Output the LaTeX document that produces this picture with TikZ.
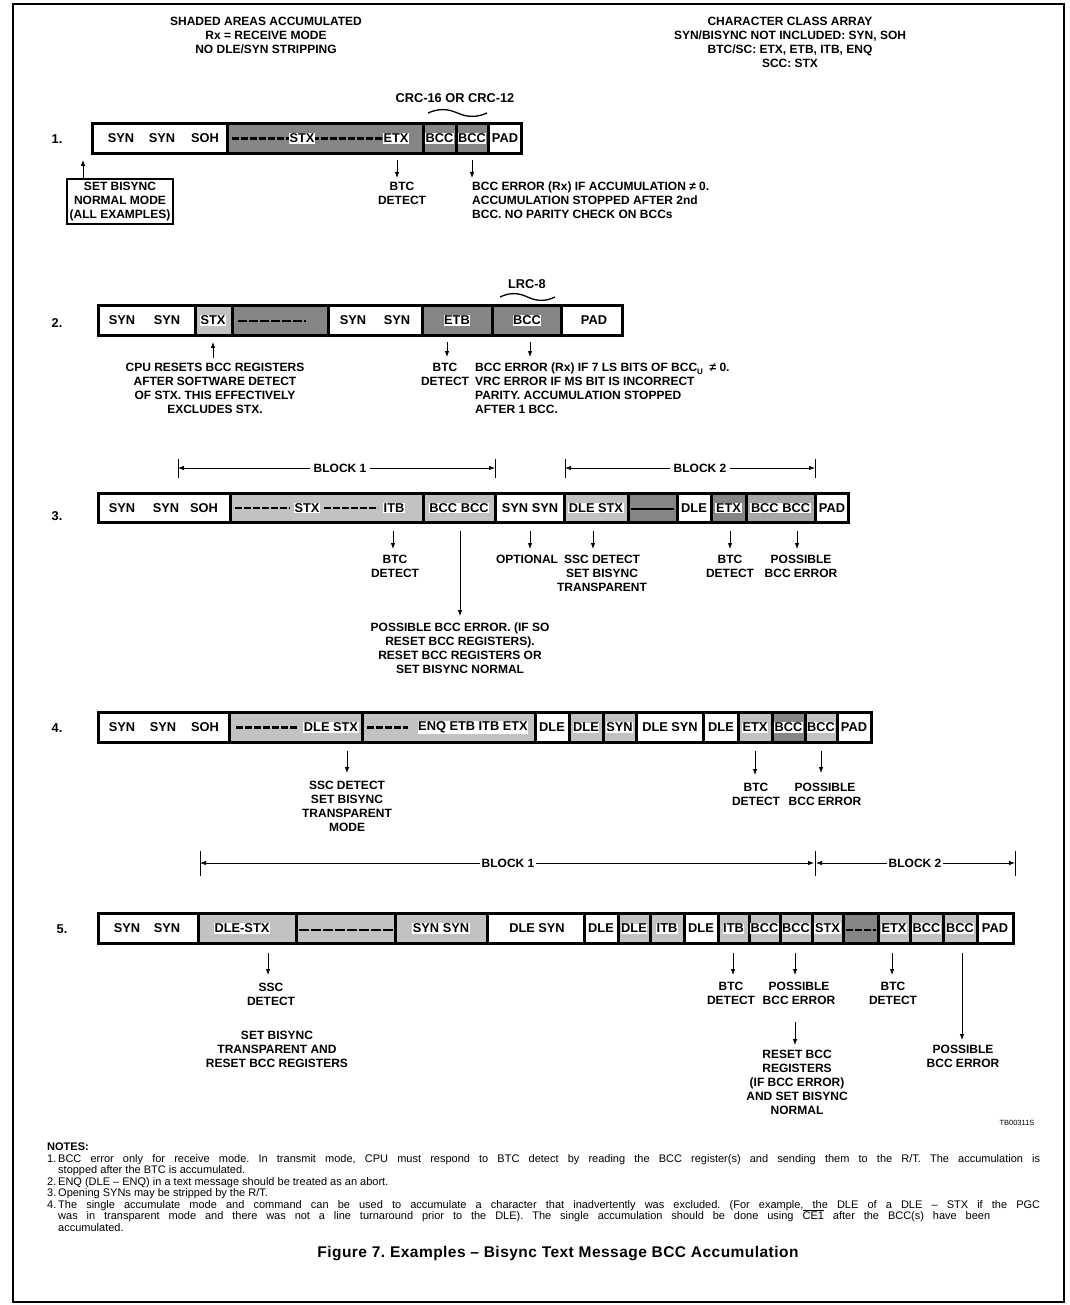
\documentclass[tikz,border=0pt]{standalone}
\usepackage{fontspec}
\setmainfont{Liberation Sans}
\usetikzlibrary{arrows.meta}

\colorlet{shL}{black!24}
\colorlet{shM}{black!34}
\colorlet{shD}{black!48}

\tikzset{
  lab/.style={font=\bfseries\fontsize{12.8}{14}\selectfont, inner sep=0.6pt},
  bl/.style={lab, fill=white},
  txt/.style={font=\bfseries\fontsize{12}{14}\selectfont, inner sep=0pt, align=center, anchor=north},
  txtl/.style={txt, align=left, anchor=north west},
  arr/.style={line width=0.8pt, -{Latex[length=6pt,width=4.5pt]}},
  dim/.style={line width=0.8pt},
  dsh/.style={line width=2.2pt, dash pattern=on 7pt off 2pt},
  blk/.style={txt, anchor=center, fill=white, inner sep=3pt},
  note/.style={font=\fontsize{11}{13}\selectfont, inner sep=0pt, anchor=base west},
}

% black frame of one message bar, cells are cut out of it
\newcommand\bframe[2]{\fill (#1,\rt) rectangle (#2,\rb);}
\newcommand\bcell[3]{\fill[#3] ({#1+1.5},{\rt+3.2}) rectangle ({#2-1.5},{\rb-3.2});}
% short downward pointer below a bar
\newcommand\pointer[4]{\coordinate (#1s) at (#2,#3); \coordinate (#1e) at (#2,#4); \draw[arr] (#1s) -- (#1e);}
% wavy brace over the check characters
\newcommand\wave[3]{\draw[line width=1.3pt] (#1,#3) .. controls ({#1+0.17*(#2-#1)},{#3-4.5}) and ({#1+0.33*(#2-#1)},{#3-4.5}) .. ({0.5*(#1+#2)},{#3}) .. controls ({#1+0.67*(#2-#1)},{#3+4.5}) and ({#1+0.83*(#2-#1)},{#3+4.5}) .. (#2,#3);}

\begin{document}
\frenchspacing
\begin{tikzpicture}[x=1pt,y=-1pt]
\useasboundingbox (0,0) rectangle (1069,1305);
\draw[line width=1.2pt] (13,4) rectangle (1064,1302);

% headings
\node[txt] (hl) at (266,17) {SHADED AREAS ACCUMULATED\\Rx = RECEIVE MODE\\NO DLE/SYN STRIPPING};
\node[txt] (hr) at (790,17) {CHARACTER CLASS ARRAY\\SYN/BISYNC NOT INCLUDED: SYN, SOH\\BTC/SC: ETX, ETB, ITB, ENQ\\SCC: STX};

% ---------------- example 1
\def\rt{122}\def\rb{155}
\bframe{90.5}{522.5}
\bcell{92}{227}{white}\bcell{227}{423}{shD}\bcell{423}{456}{shD}\bcell{456}{488}{shD}\bcell{488}{521}{white}
\draw[dsh] (232,138.5) -- (292,138.5);
\draw[dsh] (312,138.5) -- (385,138.5);
\node[lab] (n1) at (57,139) {1.};
\node[lab] (r1a) at (121,138.5) {SYN};
\node[lab] (r1b) at (162,138.5) {SYN};
\node[lab] (r1c) at (205,138.5) {SOH};
\node[bl] (r1d) at (302,138.5) {STX};
\node[bl] (r1e) at (396,138.5) {ETX};
\node[bl] (r1f) at (439.5,138.5) {BCC};
\node[bl] (r1g) at (472,138.5) {BCC};
\node[lab] (r1h) at (505,138.5) {PAD};
\node[lab] (crc) at (455,98) {CRC-16 OR CRC-12};
\wave{428}{487}{113}
\pointer{p11}{397}{160}{178}
\pointer{p12}{472}{160}{178}
\node[txt] (t11) at (402,182) {BTC\\DETECT};
\node[txtl] (t12) at (472,182) {BCC ERROR (Rx) IF ACCUMULATION ≠ 0.\\ACCUMULATION STOPPED AFTER 2nd\\BCC. NO PARITY CHECK ON BCCs};
\node[txt, draw, line width=2pt, inner sep=3pt, anchor=north] (setb) at (120,178) {SET BISYNC\\NORMAL MODE\\(ALL EXAMPLES)};
\coordinate (u1) at (83,160);
\draw[arr] (setb.north -| u1) -- (u1);

% ---------------- example 2
\def\rt{304}\def\rb{337}
\bframe{96.5}{623.5}
\bcell{98}{195}{white}\bcell{195}{232}{shL}\bcell{232}{328}{shD}\bcell{328}{422}{white}
\bcell{422}{492}{shD}\bcell{492}{561}{shD}\bcell{561}{622}{white}
\draw[line width=2pt, dash pattern=on 9pt off 2pt] (238,320.5) -- (306,320.5);
\node[lab] (n2) at (57,323) {2.};
\node[lab] (r2a) at (122,320.5) {SYN};
\node[lab] (r2b) at (167,320.5) {SYN};
\node[bl] (r2c) at (213,320.5) {STX};
\node[lab] (r2d) at (353,320.5) {SYN};
\node[lab] (r2e) at (397,320.5) {SYN};
\node[bl] (r2f) at (457,320.5) {ETB};
\node[bl] (r2g) at (527,320.5) {BCC};
\node[lab] (r2h) at (594,320.5) {PAD};
\node[lab] (lrc) at (527,284) {LRC-8};
\wave{500}{555}{297}
\node[txt] (t21) at (215,363) {CPU RESETS BCC REGISTERS\\AFTER SOFTWARE DETECT\\OF STX. THIS EFFECTIVELY\\EXCLUDES STX.};
\coordinate (u2) at (213,342);
\draw[arr] (t21.north -| u2) ++(0,-5) -- (u2);
\pointer{p21}{447}{342}{357}
\pointer{p22}{530}{342}{357}
\node[txt] (t22) at (445,363) {BTC\\DETECT};
\node[txtl] (t23) at (475,363) {BCC ERROR (Rx) IF 7 LS BITS OF BCC\raisebox{-2.5pt}{\fontsize{8}{8}\selectfont U}\ \ ≠ 0.\\VRC ERROR IF MS BIT IS INCORRECT\\PARITY. ACCUMULATION STOPPED\\AFTER 1 BCC.};

% ---------------- example 3
\node[blk] (b31) at (340,468) {BLOCK 1};
\coordinate (b31l) at (178,468); \coordinate (b31r) at (495,468);
\draw[dim] (178,459) -- (178,478); \draw[dim] (495,459) -- (495,478);
\draw[arr] (b31.west) -- (b31l); \draw[arr] (b31.east) -- (b31r);
\node[blk] (b32) at (700,468) {BLOCK 2};
\coordinate (b32l) at (565,468); \coordinate (b32r) at (815,468);
\draw[dim] (565,459) -- (565,478); \draw[dim] (815,459) -- (815,478);
\draw[arr] (b32.west) -- (b32l); \draw[arr] (b32.east) -- (b32r);

\def\rt{492}\def\rb{524}
\bframe{96.5}{849.5}
\bcell{98}{230}{white}\bcell{230}{423}{shL}\bcell{423}{495}{shL}\bcell{495}{564}{white}
\bcell{564}{628}{shL}\bcell{628}{677}{shD}\bcell{677}{711}{white}\bcell{711}{746}{shD}
\bcell{746}{815}{shM}\bcell{815}{848}{white}
\draw[dsh] (235,508) -- (290,508);
\draw[dsh] (324,508) -- (378,508);
\draw[line width=1.6pt] (631,509) -- (674,509);
\node[lab] (n3) at (57,516) {3.};
\node[lab] (r3a) at (122,508) {SYN};
\node[lab] (r3b) at (166,508) {SYN};
\node[lab] (r3c) at (204,508) {SOH};
\node[bl] (r3d) at (307,508) {STX};
\node[bl] (r3e) at (394,508) {ITB};
\node[bl] (r3f) at (459,508) {BCC BCC};
\node[lab] (r3g) at (530,508) {SYN SYN};
\node[bl] (r3h) at (596,508) {DLE STX};
\node[lab] (r3i) at (694,508) {DLE};
\node[bl] (r3j) at (728.5,508) {ETX};
\node[bl] (r3k) at (780.5,508) {BCC BCC};
\node[lab] (r3l) at (832,508) {PAD};
\pointer{p31}{393}{531}{549}
\pointer{p32}{460}{531}{616}
\pointer{p33}{530}{531}{549}
\pointer{p34}{593}{531}{549}
\pointer{p35}{730}{531}{549}
\pointer{p36}{797}{531}{549}
\node[txt] (t31) at (395,555) {BTC\\DETECT};
\node[txt] (t32) at (460,623) {POSSIBLE BCC ERROR. (IF SO\\RESET BCC REGISTERS).\\RESET BCC REGISTERS OR\\SET BISYNC NORMAL};
\node[txt] (t33) at (527,555) {OPTIONAL};
\node[txt] (t34) at (602,555) {SSC DETECT\\SET BISYNC\\TRANSPARENT};
\node[txt] (t35) at (730,555) {BTC\\DETECT};
\node[txt] (t36) at (801,555) {POSSIBLE\\BCC ERROR};

% ---------------- example 4
\def\rt{711}\def\rb{744}
\bframe{96.5}{872.5}
\bcell{98}{229}{white}\bcell{229}{362}{shL}\bcell{362}{535}{shL}\bcell{535}{569}{white}
\bcell{569}{603}{shL}\bcell{603}{636}{shL}\bcell{636}{703}{white}\bcell{703}{738}{white}
\bcell{738}{772}{shL}\bcell{772}{805}{shD}\bcell{805}{837}{shL}\bcell{837}{871}{white}
\draw[dsh] (236,727.5) -- (298,727.5);
\draw[dsh] (367,727.5) -- (408,727.5);
\node[lab] (n4) at (57,728) {4.};
\node[lab] (r4a) at (122,727.5) {SYN};
\node[lab] (r4b) at (163,727.5) {SYN};
\node[lab] (r4c) at (205,727.5) {SOH};
\node[bl] (r4d) at (331,727.5) {DLE STX};
\node[bl] (r4e) at (473,727.5) {ENQ ETB ITB ETX};
\node[lab] (r4f) at (552,727.5) {DLE};
\node[bl] (r4g) at (586,727.5) {DLE};
\node[bl] (r4h) at (619.5,727.5) {SYN};
\node[lab] (r4i) at (670,727.5) {DLE SYN};
\node[lab] (r4j) at (721,727.5) {DLE};
\node[bl] (r4k) at (755,727.5) {ETX};
\node[bl] (r4l) at (788.5,727.5) {BCC};
\node[bl] (r4m) at (821,727.5) {BCC};
\node[lab] (r4n) at (854,727.5) {PAD};
\pointer{p41}{347}{751}{773}
\pointer{p42}{755}{751}{775}
\pointer{p43}{821}{751}{773}
\node[txt] (t41) at (347,781) {SSC DETECT\\SET BISYNC\\TRANSPARENT\\MODE};
\node[txt] (t42) at (756,783) {BTC\\DETECT};
\node[txt] (t43) at (825,783) {POSSIBLE\\BCC ERROR};

% ---------------- example 5
\node[blk, inner sep=1.5pt] (b51) at (508,863) {BLOCK 1};
\coordinate (b51l) at (200,863); \coordinate (b51r) at (814,863);
\draw[dim] (200,851) -- (200,876); \draw[dim] (815,851) -- (815,876);
\draw[arr] (b51.west) -- (b51l); \draw[arr] (b51.east) -- (b51r);
\node[blk, inner sep=1.5pt] (b52) at (915,863) {BLOCK 2};
\coordinate (b52l) at (816,863); \coordinate (b52r) at (1015,863);
\draw[dim] (1015,851) -- (1015,876);
\draw[arr] (b52.west) -- (b52l); \draw[arr] (b52.east) -- (b52r);

\def\rt{912}\def\rb{945}
\bframe{96.5}{1014.5}
\bcell{98}{198}{white}\bcell{198}{296}{shL}\bcell{296}{395}{shL}\bcell{395}{487}{shL}
\bcell{487}{584}{white}\bcell{584}{618}{white}\bcell{618}{650}{shL}\bcell{650}{684}{shL}
\bcell{684}{718}{white}\bcell{718}{749}{shL}\bcell{749}{780}{shL}\bcell{780}{812}{shL}
\bcell{812}{843}{shL}\bcell{843}{878}{shD}\bcell{878}{910}{shL}\bcell{910}{943}{shL}
\bcell{943}{977}{shL}\bcell{977}{1013}{white}
\draw[dsh, dash pattern=on 10pt off 2pt] (299,930) -- (393,930);
\draw[dsh] (846,930) -- (876,930);
\node[lab] (n5) at (62,929) {5.};
\node[lab] (r5a) at (127,928.5) {SYN};
\node[lab] (r5b) at (167,928.5) {SYN};
\node[bl] (r5c) at (242,928.5) {DLE-STX};
\node[bl] (r5d) at (441,928.5) {SYN SYN};
\node[lab] (r5e) at (537,928.5) {DLE SYN};
\node[lab] (r5f) at (601,928.5) {DLE};
\node[bl] (r5g) at (634,928.5) {DLE};
\node[bl] (r5h) at (667,928.5) {ITB};
\node[lab] (r5i) at (701,928.5) {DLE};
\node[bl] (r5j) at (733.5,928.5) {ITB};
\node[bl] (r5k) at (764.5,928.5) {BCC};
\node[bl] (r5l) at (796,928.5) {BCC};
\node[bl] (r5m) at (827.5,928.5) {STX};
\node[bl] (r5n) at (894,928.5) {ETX};
\node[bl] (r5o) at (926.5,928.5) {BCC};
\node[bl] (r5p) at (960,928.5) {BCC};
\node[lab] (r5q) at (995,928.5) {PAD};
\pointer{p51}{268}{953}{975}
\pointer{p52}{733}{953}{975}
\pointer{p53}{795}{953}{975}
\pointer{p54}{795}{1022}{1045}
\pointer{p55}{892}{953}{975}
\pointer{p56}{962}{953}{1040}
\node[txt] (t51) at (271,983) {SSC\\DETECT};
\node[txt] (t52) at (277,1031) {SET BISYNC\\TRANSPARENT AND\\RESET BCC REGISTERS};
\node[txt] (t53) at (731,982) {BTC\\DETECT};
\node[txt] (t54) at (799,982) {POSSIBLE\\BCC ERROR};
\node[txt] (t55) at (797,1050) {RESET BCC\\REGISTERS\\(IF BCC ERROR)\\AND SET BISYNC\\NORMAL};
\node[txt] (t56) at (893,982) {BTC\\DETECT};
\node[txt] (t57) at (963,1045) {POSSIBLE\\BCC ERROR};
\node[font=\fontsize{7.5}{8}\selectfont, inner sep=0pt] (tb) at (1017,1123) {TB00311S};

% ---------------- notes
\node[note] (nh) at (47,1150) {\bfseries NOTES:};
\node[note] (nt1) at (47,1162) {\makebox[11pt][l]{1.}\makebox[982pt][s]{BCC error only for receive mode. In transmit mode, CPU must respond to BTC detect by reading the BCC register(s) and sending them to the R/T. The accumulation is}};
\node[note] (nt2) at (58,1173.5) {stopped after the BTC is accumulated.};
\node[note] (nt3) at (47,1185) {\makebox[11pt][l]{2.}ENQ (DLE – ENQ) in a text message should be treated as an abort.};
\node[note] (nt4) at (47,1196.5) {\makebox[11pt][l]{3.}Opening SYNs may be stripped by the R/T.};
\node[note] (nt5) at (47,1208) {\makebox[11pt][l]{4.}\makebox[982pt][s]{The single accumulate mode and command can be used to accumulate a character that inadvertently was excluded. (For example, the DLE of a DLE – STX if the PGC}};
\node[note] (nt6) at (58,1219.5) {\makebox[932pt][s]{was in transparent mode and there was not a line turnaround prior to the DLE). The single accumulation should be done using $\overline{\mbox{CE1}}$ after the BCC(s) have been}};
\node[note] (nt7) at (58,1231) {accumulated.};
\node[font=\bfseries\fontsize{15.5}{17}\selectfont, inner sep=0pt] (cap) at (558,1254) {\addfontfeature{LetterSpace=3}Figure 7. Examples – Bisync Text Message BCC Accumulation};
\end{tikzpicture}
\end{document}
